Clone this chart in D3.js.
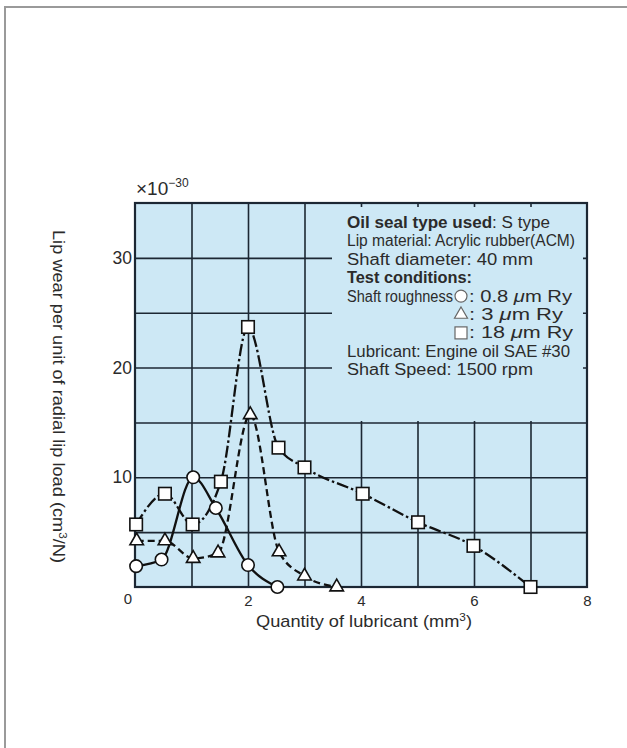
<!DOCTYPE html>
<html>
<head>
<meta charset="utf-8">
<script src="https://cdn.jsdelivr.net/npm/d3@7"></script>
<style>
  body { margin: 0; background: #fff; }
  svg { display: block; font-family: "Liberation Sans", Arial, sans-serif; }
</style>
</head>
<body>
<svg id="chart" width="627" height="748"></svg>
<script>
// values (x: mm3, y: x10^-30 cm3/N)
const circleX = [0.02, 0.47, 1.03, 1.43, 2.0, 2.52];
const circleY = [1.9, 2.5, 10.0, 7.2, 2.0, 0];
const triX = [0.03, 0.53, 1.03, 1.47, 2.04, 2.55, 3.0, 3.57];
const triY = [4.2, 4.2, 2.6, 3.1, 15.7, 3.2, 1.0, 0];
const sqX = [0.02, 0.53, 1.02, 1.52, 2.0, 2.54, 3.0, 4.03, 5.01, 5.99, 7.0];
const sqY = [5.7, 8.5, 5.7, 9.6, 23.7, 12.7, 10.9, 8.5, 5.9, 3.75, 0];

const xTicks = [2, 4, 6, 8];
const yTicks = [10, 20, 30];
const legendLines = [
    ['Oil seal type used', ': S type'],
    ['Lip material: Acrylic rubber(ACM)'],
    ['Shaft diameter: 40 mm'],
    ['Test conditions:'],
    ['Shaft roughness'],
    [],
    [],
    ['Lubricant: Engine oil SAE #30'],
    ['Shaft Speed: 1500 rpm']
];
// widths measured on the figure, used to fit the condensed lettering
const legendWidths = [203, 228, 186, 125, 106, 0, 0, 223, 186];
const roughness = ['0.8', '3', '18'];
const roughWidths = [103, 94, 104];

const svg = d3.select('#chart');
const ink = '#1c2733';
const txt = '#2b2b2b';

// page frame
svg.append('path')
    .attr('d', 'M5,748 V7 H627')
    .attr('fill', 'none')
    .attr('stroke', '#9a9a9a')
    .attr('stroke-width', 2);

const x = d3.scaleLinear().domain([0, 8]).range([135, 587]);
const y = d3.scaleLinear().domain([0, 35]).range([587, 203]);

const plot = svg.append('g');
plot.append('rect')
    .attr('x', x(0)).attr('y', y(35))
    .attr('width', x(8) - x(0)).attr('height', y(0) - y(35))
    .attr('fill', '#cde8f5');

// grid
const gx = plot.append('g')
    .attr('transform', `translate(0,${y(0)})`)
    .call(d3.axisBottom(x).tickValues(d3.range(1, 8)).tickSize(-(y(0) - y(35))).tickFormat(''));
const gy = plot.append('g')
    .attr('transform', `translate(${x(0)},0)`)
    .call(d3.axisLeft(y).tickValues(d3.range(5, 35, 5)).tickSize(-(x(8) - x(0))).tickFormat(''));
[gx, gy].forEach(g => {
    g.select('.domain').remove();
    g.selectAll('line').attr('stroke', ink).attr('stroke-width', 1.6);
});

// legend panel covers the grid
plot.append('rect')
    .attr('x', 332).attr('y', 207)
    .attr('width', 251).attr('height', 214)
    .attr('fill', '#cde8f5');

plot.append('rect')
    .attr('x', x(0)).attr('y', y(35))
    .attr('width', x(8) - x(0)).attr('height', y(0) - y(35))
    .attr('fill', 'none')
    .attr('stroke', ink)
    .attr('stroke-width', 2.2);

// tick labels
const ax = svg.append('g')
    .attr('transform', `translate(0,${y(0)})`)
    .call(d3.axisBottom(x).tickValues(xTicks).tickSize(0).tickPadding(4));
const ay = svg.append('g')
    .attr('transform', `translate(${x(0)},0)`)
    .call(d3.axisLeft(y).tickValues(yTicks).tickSize(0).tickPadding(3));
ax.attr('font-size', 15);
ay.attr('font-size', 17.5);
ax.selectAll('text').attr('dy', '1em');
[ax, ay].forEach(g => {
    g.select('.domain').remove();
    g.selectAll('text').attr('fill', txt);
    g.attr('font-family', '"Liberation Sans", Arial, sans-serif');
});
svg.append('text')
    .attr('x', 128).attr('y', 604)
    .attr('text-anchor', 'middle')
    .attr('font-size', 15).attr('fill', txt)
    .text('0');

// multiplier
const mult = svg.append('text')
    .attr('x', 136).attr('y', 195)
    .attr('font-size', 19).attr('fill', txt);
mult.append('tspan').text('×10');
mult.append('tspan').attr('font-size', 12).attr('dy', -8).text('−30');

// axis titles
const xt = svg.append('text')
    .attr('x', 256).attr('y', 627)
    .attr('font-size', 17).attr('fill', txt)
    .attr('textLength', 216).attr('lengthAdjust', 'spacingAndGlyphs');
xt.append('tspan').text('Quantity of lubricant (mm');
xt.append('tspan').attr('font-size', 11).attr('dy', -6).text('3');
xt.append('tspan').attr('dy', 6).text(')');

const yt = svg.append('text')
    .attr('transform', 'translate(53,230) rotate(90)')
    .attr('font-size', 17).attr('fill', txt)
    .attr('textLength', 333).attr('lengthAdjust', 'spacingAndGlyphs');
yt.append('tspan').text('Lip wear per unit of radial lip load (cm');
yt.append('tspan').attr('font-size', 11).attr('dy', -6).text('3');
yt.append('tspan').attr('dy', 6).text('/N)');

// series
const series = [
    { xs: circleX, ys: circleY, dash: null, shape: 'circle' },
    { xs: triX, ys: triY, dash: '7,4', shape: 'triangle' },
    { xs: sqX, ys: sqY, dash: '12,3,2.5,3', shape: 'square' }
];

const line = d3.line()
    .x(d => x(d[0]))
    .y(d => y(d[1]))
    .curve(d3.curveMonotoneX);

function marker(g, shape, s, stroke, sw) {
    let m;
    if (shape === 'circle') {
        m = g.append('circle').attr('r', s / 2);
    } else if (shape === 'square') {
        m = g.append('rect').attr('x', -s / 2).attr('y', -s / 2).attr('width', s).attr('height', s);
    } else {
        const h = s * Math.sqrt(3) / 2;
        m = g.append('path').attr('d', `M0,${-h * 2 / 3} L${s / 2},${h / 3} L${-s / 2},${h / 3} Z`);
    }
    m.attr('fill', '#fff').attr('stroke', stroke).attr('stroke-width', sw);
    return m;
}

series.forEach(s => {
    const pts = s.xs.map((v, i) => [v, s.ys[i]]);
    svg.append('path')
        .datum(pts)
        .attr('d', line)
        .attr('fill', 'none')
        .attr('stroke', '#111')
        .attr('stroke-width', 2.3)
        .attr('stroke-dasharray', s.dash);
});
series.forEach(s => {
    s.xs.forEach((v, i) => {
        const g = svg.append('g').attr('transform', `translate(${x(v)},${y(s.ys[i])})`);
        marker(g, s.shape, s.shape === 'triangle' ? 13.5 : 12.5, '#111', 1.6);
    });
});

// legend text
const leg = svg.append('g').attr('font-size', 16).attr('fill', txt);
legendLines.forEach((parts, i) => {
    if (!parts.length) return;
    const t = leg.append('text').attr('x', 347).attr('y', 228 + i * 18.4)
        .attr('textLength', legendWidths[i]).attr('lengthAdjust', 'spacingAndGlyphs');
    parts.forEach((p, j) => {
        const sp = t.append('tspan').text(p);
        if ((i === 0 && j === 0) || i === 3) sp.attr('font-weight', 'bold');
    });
});
['circle', 'triangle', 'square'].forEach((shape, k) => {
    const by = 228 + (4 + k) * 18.4;
    const g = leg.append('g').attr('transform', `translate(461,${by - 5.5})`);
    marker(g, shape, shape === 'triangle' ? 13 : 12, '#666', 1.2);
    const t = leg.append('text').attr('x', 469).attr('y', by)
        .attr('textLength', roughWidths[k]).attr('lengthAdjust', 'spacingAndGlyphs');
    t.append('tspan').text(': ' + roughness[k] + ' ');
    t.append('tspan').attr('font-style', 'italic').text('μ');
    t.append('tspan').text('m Ry');
});
</script>
</body>
</html>
